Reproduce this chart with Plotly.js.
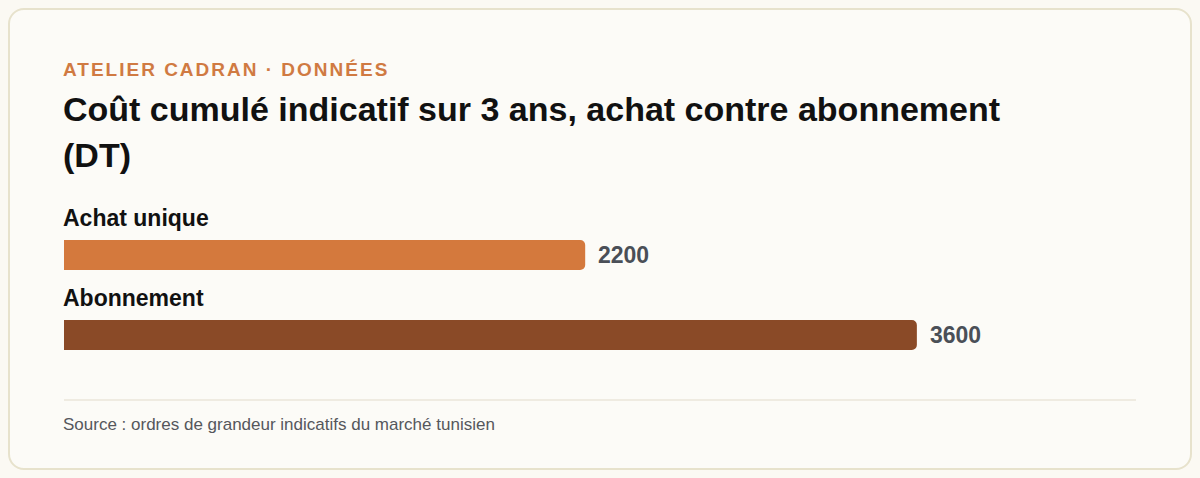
<!DOCTYPE html>
<html lang="fr">
<head>
<meta charset="utf-8">
<script src="https://cdn.plot.ly/plotly-3.0.1.min.js"></script>
<style>
	html, body { margin: 0; padding: 0; background: #fbf9f3; }
	#chart { position: relative; width: 1200px; height: 478px; }
	#chart::before {
		content: "";
		position: absolute;
		left: 8px;
		top: 8px;
		width: 1184px;
		height: 462px;
		box-sizing: border-box;
		border: 2px solid #e7e2cc;
		border-radius: 16px;
		background: #fcfbf7;
	}
</style>
</head>
<body>
<div id="chart"></div>
<script>
/* global Plotly */

const categories = ["Achat unique", "Abonnement"];
const costs = [2200, 3600];
const barColors = ["#d4793d", "#8a4a27"];

const KICKER = "ATELIER CADRAN · DONNÉES";
const TITLE_LINES = ["Coût cumulé indicatif sur 3 ans, achat contre abonnement", "(DT)"];
const SOURCE = "Source : ordres de grandeur indicatifs du marché tunisien";

const FONT = "'Liberation Sans', Arial, sans-serif";
const KICKER_SPACING = 2;
const W = 1200;
const H = 478;

const chartDiv = document.getElementById("chart");

// paper coords span the whole figure because margins are zero
const px = x => x / W;
const py = y => 1 - y / H;

const barTrace = {
	type: "bar",
	orientation: "h",
	x: costs,
	y: categories,
	width: 0.375,
	marker: { color: barColors, cornerradius: 5, line: { width: 0 } },
	hoverinfo: "none",
	showlegend: false,
};

const annotations = [];

// label above each bar, value just after the bar end
categories.forEach((cat, i) => {
	annotations.push({
		x: 0,
		y: cat,
		xref: "x",
		yref: "y",
		xanchor: "left",
		yanchor: "middle",
		xshift: -1,
		yshift: 37,
		borderpad: 0,
		borderwidth: 0,
		showarrow: false,
		text: cat,
		font: { family: FONT, size: 23, color: "#111111", weight: 700 },
	});
	annotations.push({
		x: costs[i],
		y: cat,
		xref: "x",
		yref: "y",
		xanchor: "left",
		yanchor: "middle",
		xshift: 13,
		borderpad: 0,
		borderwidth: 0,
		showarrow: false,
		text: String(costs[i]),
		font: { family: FONT, size: 23, color: "#4a4f57", weight: 700 },
	});
});

function paperText(text, x, y, size, color, weight) {
	return {
		x: px(x),
		y: py(y),
		xref: "paper",
		yref: "paper",
		xanchor: "left",
		yanchor: "middle",
		borderpad: 0,
		borderwidth: 0,
		showarrow: false,
		text,
		font: { family: FONT, size, color, weight },
	};
}

const kicker = paperText(KICKER, 63, 69, 19, "#d07a42", 700);
// letter-spacing is added after layout and grows the text around its centre
kicker.xshift = (KICKER.length * KICKER_SPACING) / 2;
annotations.push(kicker);
annotations.push(paperText(TITLE_LINES[0], 63, 109, 34, "#111111", 700));
annotations.push(paperText(TITLE_LINES[1], 63, 155, 34, "#111111", 700));
annotations.push(paperText(SOURCE, 63, 424, 17, "#55575c", 400));

const layout = {
	width: W,
	height: H,
	margin: { l: 0, r: 0, t: 0, b: 0, pad: 0 },
	paper_bgcolor: "rgba(0,0,0,0)",
	plot_bgcolor: "rgba(0,0,0,0)",
	showlegend: false,
	xaxis: {
		domain: [64 / W, 1136 / W],
		range: [0, 4525],
		visible: false,
		fixedrange: true,
	},
	yaxis: {
		type: "category",
		domain: [(H - 375) / H, (H - 175) / H],
		range: [1.5, -1.0],
		visible: false,
		fixedrange: true,
	},
	annotations,
	shapes: [
		{
			type: "line",
			xref: "paper",
			yref: "paper",
			x0: px(64),
			x1: px(1136),
			y0: py(400),
			y1: py(400),
			line: { color: "#ebe6da", width: 1.5 },
		},
	],
};

Plotly.newPlot(chartDiv, [barTrace], layout, { displayModeBar: false, staticPlot: true }).then(() => {
	// tracked capitals for the kicker line
	chartDiv.querySelectorAll(".annotation-text").forEach(t => {
		if (t.textContent === KICKER) {
			t.style.letterSpacing = KICKER_SPACING + "px";
		}
	});
});
</script>
</body>
</html>
